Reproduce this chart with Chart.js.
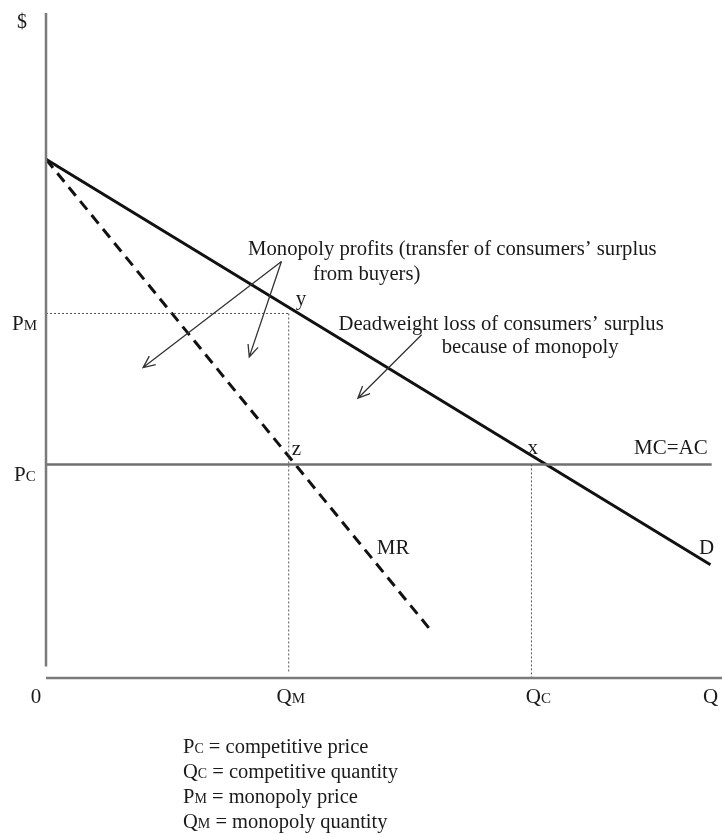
<!DOCTYPE html>
<html lang="en">
  <head>
    <meta charset="UTF-8" />
    <title>Monopoly vs competition</title>
    <style>
      body {
        margin: 0;
        background: #ffffff;
      }
      #chart {
        display: block;
      }
    </style>
  </head>
  <body>
    <canvas id="chart" width="722" height="835"></canvas>
    <script src="https://cdn.jsdelivr.net/npm/chart.js@4.4.0/dist/chart.umd.min.js"></script>
    <script>
      // curves (quantity, price)
      const demandQ = [0, 10.95];
      const demandP = [7.285, 1.59];
      const mrQ = [0, 6.36];
      const mrP = [7.285, 0.65];
      const mcQ = [0, 10.97];
      const mcP = [3, 3];

      // key points
      const qM = 4;
      const qC = 8;
      const pM = 5.12;
      const pC = 3;

      // axis labels
      const xTickValues = [0, qM, qC, 10.95];
      const xTickLabels = [['0', ''], ['Q', 'M'], ['Q', 'C'], ['Q', '']];
      const yTickValues = [pM, pC];
      const yTickLabels = [['P', 'M'], ['P', 'C']];

      // key under the chart
      const keySymbols = [['P', 'C'], ['Q', 'C'], ['P', 'M'], ['Q', 'M']];
      const keyTexts = ['competitive price', 'competitive quantity', 'monopoly price', 'monopoly quantity'];

      const FONT = '"Liberation Serif", "DejaVu Serif", serif';
      const INK = '#1a1a1a';

      function pts(xs, ys) {
        return xs.map((x, i) => ({ x: x, y: ys[i] }));
      }

      function line(data, color, width, dash) {
        return {
          data: data,
          showLine: true,
          borderColor: color,
          borderWidth: width,
          borderDash: dash || [],
          pointRadius: 0,
          fill: false,
          clip: false,
          tension: 0,
        };
      }

      // text with a small-cap style subscript on the same baseline
      function subText(ctx, main, sub, x, y, size, align) {
        ctx.font = size + 'px ' + FONT;
        let w1 = ctx.measureText(main).width;
        ctx.font = Math.round(size * 0.7) + 'px ' + FONT;
        let w2 = sub ? ctx.measureText(sub).width : 0;
        let left = x;
        if (align == 'center') left = x - (w1 + w2) / 2;
        ctx.textAlign = 'left';
        ctx.textBaseline = 'alphabetic';
        ctx.font = size + 'px ' + FONT;
        ctx.fillText(main, left, y);
        if (sub) {
          ctx.font = Math.round(size * 0.7) + 'px ' + FONT;
          ctx.fillText(sub, left + w1, y);
        }
        return w1 + w2;
      }

      function arrow(ctx, x1, y1, x2, y2) {
        let a = Math.atan2(y2 - y1, x2 - x1);
        let h = 13;
        let s = 0.42;
        ctx.beginPath();
        ctx.moveTo(x1, y1);
        ctx.lineTo(x2, y2);
        ctx.moveTo(x2 - h * Math.cos(a - s), y2 - h * Math.sin(a - s));
        ctx.lineTo(x2, y2);
        ctx.lineTo(x2 - h * Math.cos(a + s), y2 - h * Math.sin(a + s));
        ctx.stroke();
      }

      const textPlugin = {
        id: 'econText',
        afterDatasetsDraw(chart) {
          const ctx = chart.ctx;
          const xs = chart.scales.x;
          const ys = chart.scales.y;
          const X = (v) => xs.getPixelForValue(v);
          const Y = (v) => ys.getPixelForValue(v);
          ctx.save();
          ctx.fillStyle = INK;

          // arrows
          ctx.strokeStyle = '#333333';
          ctx.lineWidth = 1.3;
          arrow(ctx, X(3.88), Y(5.85), X(1.6), Y(4.36));
          arrow(ctx, X(3.88), Y(5.85), X(3.35), Y(4.51));
          arrow(ctx, X(6.19), Y(4.82), X(5.14), Y(3.93));

          // axis labels
          const xOff = [-10, 2, 7, 0];
          xTickValues.forEach((v, i) => {
            subText(ctx, xTickLabels[i][0], xTickLabels[i][1], X(v) + xOff[i], Y(0) + 25, 21, 'center');
          });
          const yLeft = [12, 14];
          yTickValues.forEach((v, i) => {
            subText(ctx, yTickLabels[i][0], yTickLabels[i][1], yLeft[i], Y(v) + 17, 21, 'left');
          });
          subText(ctx, '$', '', 22, 28, 20, 'center');

          // point and curve labels
          ctx.font = '21px ' + FONT;
          ctx.textAlign = 'left';
          ctx.textBaseline = 'alphabetic';
          ctx.fillText('y', X(qM) + 7, Y(pM) - 8);
          ctx.fillText('z', X(qM) + 3, Y(pC) - 9);
          ctx.fillText('x', X(qC) - 4, Y(pC) - 10);
          ctx.fillText('MC=AC', X(9.69), Y(pC) - 10);
          ctx.fillText('MR', X(5.45), Y(1.74));
          ctx.fillText('D', X(10.76), Y(1.74));

          // notes
          ctx.font = '20.7px ' + FONT;
          ctx.fillText('Monopoly profits (transfer of consumers\u2019 surplus', X(3.33), Y(5.94));
          ctx.fillText('from buyers)', X(4.4), Y(5.59));
          ctx.fillText('Deadweight loss of consumers\u2019 surplus', X(4.82), Y(4.89));
          ctx.fillText('because of monopoly', X(6.52), Y(4.56));

          // key
          keySymbols.forEach((s, i) => {
            let yy = 753 + i * 25;
            let w = subText(ctx, s[0], s[1], 183, yy, 20.5, 'left');
            ctx.font = '20.5px ' + FONT;
            ctx.fillText(' = ' + keyTexts[i], 183 + w, yy);
          });
          ctx.restore();
        },
      };

      new Chart(document.getElementById('chart'), {
        type: 'scatter',
        data: {
          datasets: [
            // axes
            line([{ x: 0, y: 0.16 }, { x: 0, y: 9.34 }], '#7a7a7a', 2.5),
            line([{ x: 0, y: 0 }, { x: 11.14, y: 0 }], '#7a7a7a', 2.5),
            // guide lines
            line([{ x: 0, y: pM }, { x: qM, y: pM }], '#555555', 1, [2, 2]),
            line([{ x: qM, y: pM }, { x: qM, y: 0.08 }], '#555555', 1, [2, 2]),
            line([{ x: qC, y: pC }, { x: qC, y: 0 }], '#555555', 1, [2, 2]),
            // curves
            line(pts(mcQ, mcP), '#707070', 2.5),
            line(pts(mrQ, mrP), '#111111', 3, [11, 7]),
            line(pts(demandQ, demandP), '#111111', 3),
          ],
        },
        options: {
          responsive: false,
          animation: false,
          layout: { padding: { left: 46, right: 0, top: 13, bottom: 157 } },
          plugins: {
            legend: { display: false },
            tooltip: { enabled: false },
          },
          scales: {
            x: { type: 'linear', min: 0, max: 11.14, display: false },
            y: { type: 'linear', min: 0, max: 9.34, display: false },
          },
        },
        plugins: [textPlugin],
      });
    </script>
  </body>
</html>
